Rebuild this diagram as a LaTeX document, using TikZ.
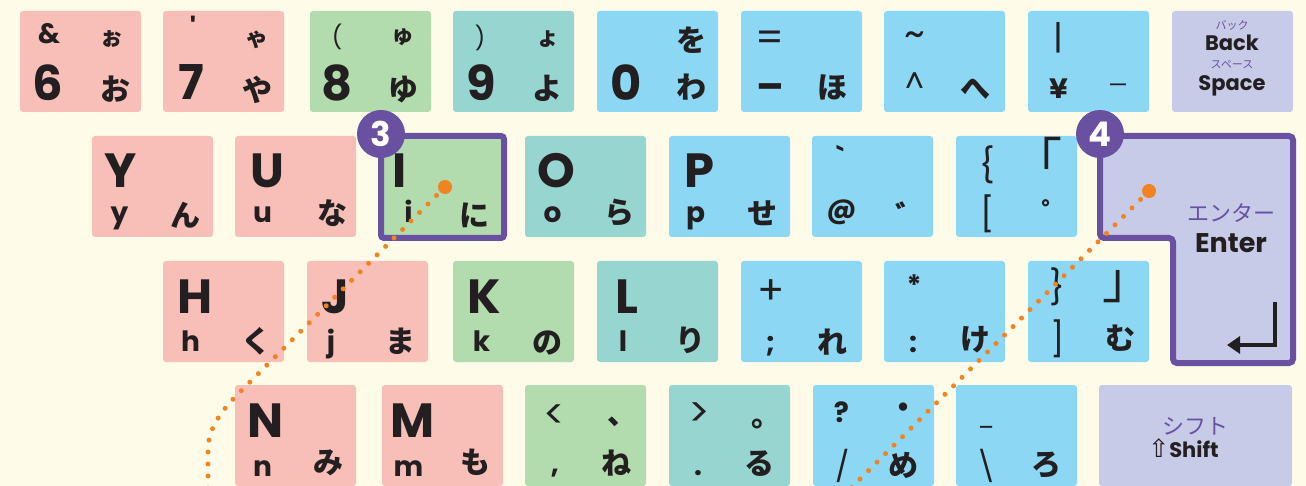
\documentclass[tikz,border=0pt]{standalone}
\usepackage{fontspec}
\newfontfamily\lat{Poppins}
\newfontfamily\jp{Noto Sans CJK JP}
\newfontfamily\arw{DejaVu Sans}
\usetikzlibrary{arrows.meta}
\definecolor{bgcream}{HTML}{FFFBE9}
\definecolor{pinkkey}{HTML}{F8BEB8}
\definecolor{greenkey}{HTML}{B2DBAE}
\definecolor{tealkey}{HTML}{97D5D1}
\definecolor{bluekey}{HTML}{8CD7F4}
\definecolor{lavkey}{HTML}{C8CBE7}
\definecolor{purp}{HTML}{6950A1}
\definecolor{dotorange}{HTML}{F08422}
\definecolor{ink}{HTML}{231F20}
\tikzset{
    keycap/.style={rectangle, rounded corners=3pt, minimum width=121pt, minimum height=101pt, anchor=north west, inner sep=0pt, outer sep=0pt},
    bigtxt/.style={font=\lat\bfseries\fontsize{48}{48}\selectfont, text=ink, inner sep=0pt},
    dashtxt/.style={font=\lat\bfseries\fontsize{40}{40}\selectfont, text=ink, inner sep=0pt},
    symtxt/.style={font=\lat\bfseries\fontsize{28}{28}\selectfont, text=ink, inner sep=0pt},
    thinsym/.style={font=\lat\fontsize{30}{30}\selectfont, text=ink, inner sep=0pt},
    widesym/.style={font=\lat\fontsize{40}{40}\selectfont, text=ink, inner sep=0pt},
    brsym/.style={font=\lat\fontsize{34}{34}\selectfont, text=ink, inner sep=0pt},
    parsym/.style={font=\lat\fontsize{23}{23}\selectfont, text=ink, inner sep=0pt},
    lowtxt/.style={symtxt, anchor=base},
    kanatxt/.style={font=\jp\bfseries\fontsize{30}{30}\selectfont, text=ink, inner sep=0pt},
    smallkana/.style={font=\jp\bfseries\fontsize{23}{23}\selectfont, text=ink, inner sep=0pt},
    thinkana/.style={font=\jp\fontsize{20}{20}\selectfont, text=ink, inner sep=0pt},
    brtxt/.style={font=\jp\fontsize{50}{50}\selectfont, text=ink, inner sep=0pt},
    wordtxt/.style={font=\lat\bfseries\fontsize{21}{21}\selectfont, text=ink, inner sep=0pt},
    purpsmall/.style={font=\jp\fontsize{11}{11}\selectfont, text=purp, inner sep=0pt},
    purpmid/.style={font=\jp\fontsize{22}{22}\selectfont, text=purp, inner sep=0pt},
    badge/.style={circle, fill=purp, text=white, minimum size=48pt, inner sep=0pt, font=\lat\bfseries\fontsize{34}{34}\selectfont},
    bigdot/.style={circle, fill=dotorange, minimum size=14pt, inner sep=0pt},
    dotline/.style={draw=dotorange, line width=5pt, line cap=round, dash pattern=on 0pt off 12pt},
    retarrow/.style={draw=ink, line width=3.5pt, -{Triangle[length=13pt,width=17pt]}}
}
\begin{document}
\begin{tikzpicture}[x=1pt,y=-1pt]
\useasboundingbox (0,0) rectangle (1306,486);
\clip (0,0) rectangle (1306,486);
\fill[bgcream] (0,0) rectangle (1306,486);

% Keys
\foreach \nm/\col/\x/\y in {
    six/pinkkey/20/11, seven/pinkkey/163/11, eight/greenkey/310/11, nine/tealkey/453/11,
    zero/bluekey/597/11, minus/bluekey/741/11, caret/bluekey/884/11, yen/bluekey/1028/11,
    bs/lavkey/1172/11,
    yy/pinkkey/92/136, uu/pinkkey/235/136, oo/tealkey/525/136, pp/bluekey/669/136,
    at/bluekey/812/136, lbr/bluekey/956/136,
    hh/pinkkey/163/261, jj/pinkkey/307/261, kk/greenkey/453/261, ll/tealkey/597/261,
    semi/bluekey/741/261, colon/bluekey/884/261, rbr/bluekey/1028/261,
    nn/pinkkey/235/385, mm/pinkkey/382/385, comma/greenkey/525/385, period/tealkey/669/385,
    slash/bluekey/813/385, bsl/bluekey/956/385}
    \node[keycap, fill=\col] (k\nm) at (\x,\y) {};
\node[keycap, fill=lavkey, minimum width=193pt] (kshift) at (1099,385) {};
\node[keycap, fill=greenkey, draw=purp, line width=6pt, minimum width=123pt, minimum height=102pt] (kii) at (381,136) {};
\draw[fill=lavkey, draw=purp, line width=6pt, rounded corners=4pt]
    (1100,136) -- (1293,136) -- (1293,363) -- (1173,363) -- (1173,238) -- (1100,238) -- cycle;

% Key labels
\foreach \kk/\dx/\dy/\sty/\txt [count=\i] in {
    six/29/23/symtxt/\&, six/92/28/smallkana/ぉ, six/28/71.5/bigtxt/6, six/95/78/kanatxt/お,
    seven/30/16/symtxt/', seven/94/28.5/smallkana/ゃ, seven/28/71.5/bigtxt/7, seven/94/78.5/kanatxt/や,
    eight/27/26/parsym/{(}, eight/93/26.5/smallkana/ゅ, eight/27.5/71.5/bigtxt/8, eight/93/79/kanatxt/ゆ,
    nine/27/26.5/parsym/{)}, nine/94.5/28/smallkana/ょ, nine/28.5/71.5/bigtxt/9, nine/94/77.5/kanatxt/よ,
    zero/94.5/29/kanatxt/を, zero/29/71.5/bigtxt/0, zero/94/76.5/kanatxt/わ,
    minus/29/30/widesym/=, minus/29/81/dashtxt/–, minus/91.5/76.5/kanatxt/ほ,
    caret/30.5/29/widesym/\textasciitilde, caret/30.5/72/thinsym/\textasciicircum, caret/91/78/kanatxt/へ,
    yen/30/26.5/brsym/|, yen/30.5/78/symtxt/¥, yen/90.5/77/thinkana/ー,
    bs/60/14/purpsmall/バック, bs/60/31.5/wordtxt/Back, bs/60/54/purpsmall/スペース, bs/60/75/wordtxt/Space,
    yy/28.5/34.5/bigtxt/Y, yy/27.5/87/lowtxt/y, yy/93/79/kanatxt/ん,
    uu/32/34.5/bigtxt/U, uu/27.5/87/lowtxt/u, uu/97/77.5/kanatxt/な,
    ii/19/35/bigtxt/I, ii/27.5/87/lowtxt/i, ii/93/79/kanatxt/に,
    oo/31.5/34.5/bigtxt/O, oo/27.5/87/lowtxt/o, oo/94/76.5/kanatxt/ら,
    pp/30/34.5/bigtxt/P, pp/26.5/87/lowtxt/p, pp/93.5/77/kanatxt/せ,
    at/28.5/20.5/symtxt/`, at/29.5/76.5/symtxt/@, at/98/78.5/kanatxt/゛,
    lbr/31/29/brsym/\{, lbr/81/22.5/brtxt/「, lbr/31.5/77.5/brsym/[, lbr/100/76/kanatxt/゜,
    hh/32/35.5/bigtxt/H, hh/27.5/90/lowtxt/h, hh/93/80/kanatxt/く,
    jj/28/35.5/bigtxt/J, jj/24/90/lowtxt/j, jj/93/80.5/kanatxt/ま,
    kk/31/35.5/bigtxt/K, kk/28.5/90/lowtxt/k, kk/94.5/81.5/kanatxt/の,
    ll/29.5/35.5/bigtxt/L, ll/26/90/lowtxt/l, ll/93/79.5/kanatxt/り,
    semi/30/31.5/widesym/+, semi/29.5/85.5/symtxt/;, semi/91/81/kanatxt/れ,
    colon/30/24/symtxt/*, colon/29/83/symtxt/:, colon/91.5/78.5/kanatxt/け,
    rbr/29/25.5/brsym/\}, rbr/99/26/brtxt/」, rbr/29.5/78/brsym/], rbr/92/77.5/kanatxt/む,
    nn/31/35.5/bigtxt/N, nn/27.5/91/lowtxt/n, nn/93/77.5/kanatxt/み,
    mm/31/35.5/bigtxt/M, mm/26.5/91/lowtxt/m, mm/93/77.5/kanatxt/も,
    comma/30/31.5/widesym/<, comma/97/37/kanatxt/、, comma/30/88.5/symtxt/{,}, comma/91.5/78.5/kanatxt/ね,
    period/30/30/widesym/>, period/97/39/kanatxt/。, period/29/88/symtxt/., period/90/78.5/kanatxt/る,
    slash/28.5/27.5/symtxt/?, slash/90/26/kanatxt/・, slash/29.5/81/thinsym/{/}, slash/90.5/80/kanatxt/め,
    bsl/30/42/parsym/\_, bsl/30/81/thinsym/\textbackslash, bsl/90.5/80/kanatxt/ろ,
    shift/96.5/41.5/purpmid/シフト, shift/84.5/63/wordtxt/{{\arw\mdseries\fontsize{25}{25}\selectfont ⇧}Shift}}
    \node[\sty] (lab\i) at ([shift={(\dx,\dy)}]k\kk.north west) {\txt};

% Enter key
\node[purpmid] (enterkana) at (1231,213.5) {エンター};
\node[wordtxt, font=\lat\bfseries\fontsize{27}{27}\selectfont] (enterword) at (1231,243) {Enter};
\coordinate (rettop) at (1275,302);
\coordinate (retcorner) at (1275,345);
\coordinate (rettip) at (1227,345);
\draw[retarrow] (rettop) -- (retcorner) -- (rettip);

% Dotted pointers
\node[bigdot] (dotI) at (445,187) {};
\node[bigdot] (dotE) at (1149,191) {};
\coordinate (turnI) at (240,392);
\coordinate (downI) at (208,450);
\coordinate (endI) at (208,500);
\coordinate (endE) at (839,500);
\draw[dotline] (dotI.center) -- (turnI) .. controls (222,410) and (208,428) .. (downI) -- (endI);
\draw[dotline] (dotE.center) -- (endE);

% Badges
\node[badge] (badge3) at (381,134) {3};
\node[badge] (badge4) at (1100,134) {4};

\end{tikzpicture}
\end{document}
